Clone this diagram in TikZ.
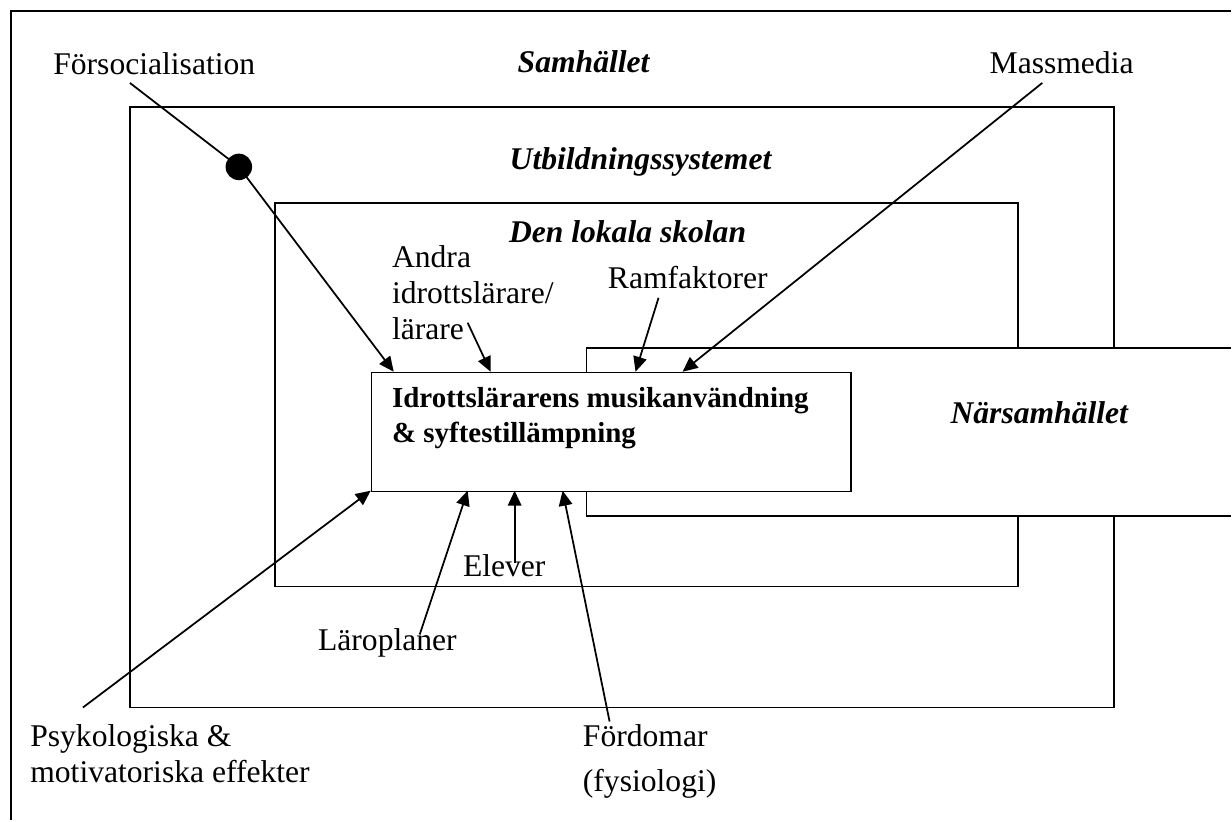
\documentclass[tikz,border=0pt]{standalone}
\usepackage{fontspec}
\setmainfont{Liberation Serif}
\usetikzlibrary{arrows.meta}
\tikzset{
  lbl/.style={font=\fontsize{18}{20.7}\selectfont, inner sep=0pt, align=left},
  level/.style={font=\fontsize{18}{20.7}\selectfont\bfseries\itshape, inner sep=0pt},
  frame/.style={line width=1pt},
  infl/.style={line width=1pt, -{Triangle[length=0.3cm,width=0.27cm]}},
  dot/.style={circle, fill=black, inner sep=0pt, minimum size=0.53cm},
}
\begin{document}
\begin{tikzpicture}[x=0.02cm, y=-0.02cm]
\fill[white] (0,0) rectangle (1232,821);

% Samhället
\draw[frame] (1232,11) -- (11,11) -- (11,821);
% Utbildningssystemet
\draw[frame] (130,107) rectangle (1115,708);
% Den lokala skolan
\draw[frame] (275,203) rectangle (1019,587);
% Närsamhället
\filldraw[frame,fill=white] (1232,348) -- (587,348) -- (587,516) -- (1232,516);

% the teacher
\node[frame, draw, fill=white, inner sep=0pt, anchor=north west,
      minimum width=9.6cm, minimum height=2.38cm] (core) at (371,372) {};
\node[font=\fontsize{16.5}{19.9}\selectfont\bfseries, inner sep=0pt, align=left,
      anchor=base west] (coretxt) at (392,443) {Idrottslärarens musikanvändning\\\& syftestillämpning};

\node[level, anchor=base] (samh) at (584,73) {Samhället};
\node[level, anchor=base] (utb) at (641,170) {Utbildningssystemet};
\node[level, anchor=base] (skola) at (628,243) {Den lokala skolan};
\node[level, anchor=base] (nars) at (1040,424) {Närsamhället};

% (multi-line nodes sit on their last baseline)
\node[lbl, anchor=base west] (fors) at (53,75) {Försocialisation};
\node[lbl, anchor=base west] (mass) at (990,74) {Massmedia};
\node[lbl, anchor=base west] (andra) at (392,340) {Andra\\idrottslärare/\\lärare};
\node[lbl, anchor=base west] (ram) at (608,289) {Ramfaktorer};
\node[lbl, anchor=base west] (elev) at (463,577) {Elever};
\node[lbl, anchor=base west] (laro) at (318,651) {Läroplaner};
\node[lbl, anchor=base west] (ford) at (583,792) {Fördomar\\[5pt](fysiologi)};
\node[lbl, anchor=base west] (psyk) at (30,783) {Psykologiska \&\\motivatoriska effekter};

% influences
\coordinate (fsA) at (130,83);
\node[dot] (fsdot) at (239,167) {};
\coordinate (fsB) at (394,372);
\coordinate (anA) at (468,323);
\coordinate (anB) at (491,372);
\coordinate (raA) at (659,298);
\coordinate (raB) at (636,372);
\coordinate (maA) at (1043,83);
\coordinate (maB) at (683,372);
\coordinate (psA) at (83,708);
\coordinate (psB) at (371,491);
\coordinate (lpA) at (420,635);
\coordinate (lpB) at (468,491);
\coordinate (elA) at (515,563);
\coordinate (elB) at (515,491);
\coordinate (fdA) at (610,722);
\coordinate (fdB) at (563,491);

\draw[frame] (fsA) -- (fsdot.center);
\draw[infl] (fsdot.center) -- (fsB);
\draw[infl] (anA) -- (anB);
\draw[infl] (raA) -- (raB);
\draw[infl] (maA) -- (maB);
\draw[infl] (psA) -- (psB);
\draw[infl] (lpA) -- (lpB);
\draw[infl] (elA) -- (elB);
\draw[infl] (fdA) -- (fdB);
\end{tikzpicture}
\end{document}
